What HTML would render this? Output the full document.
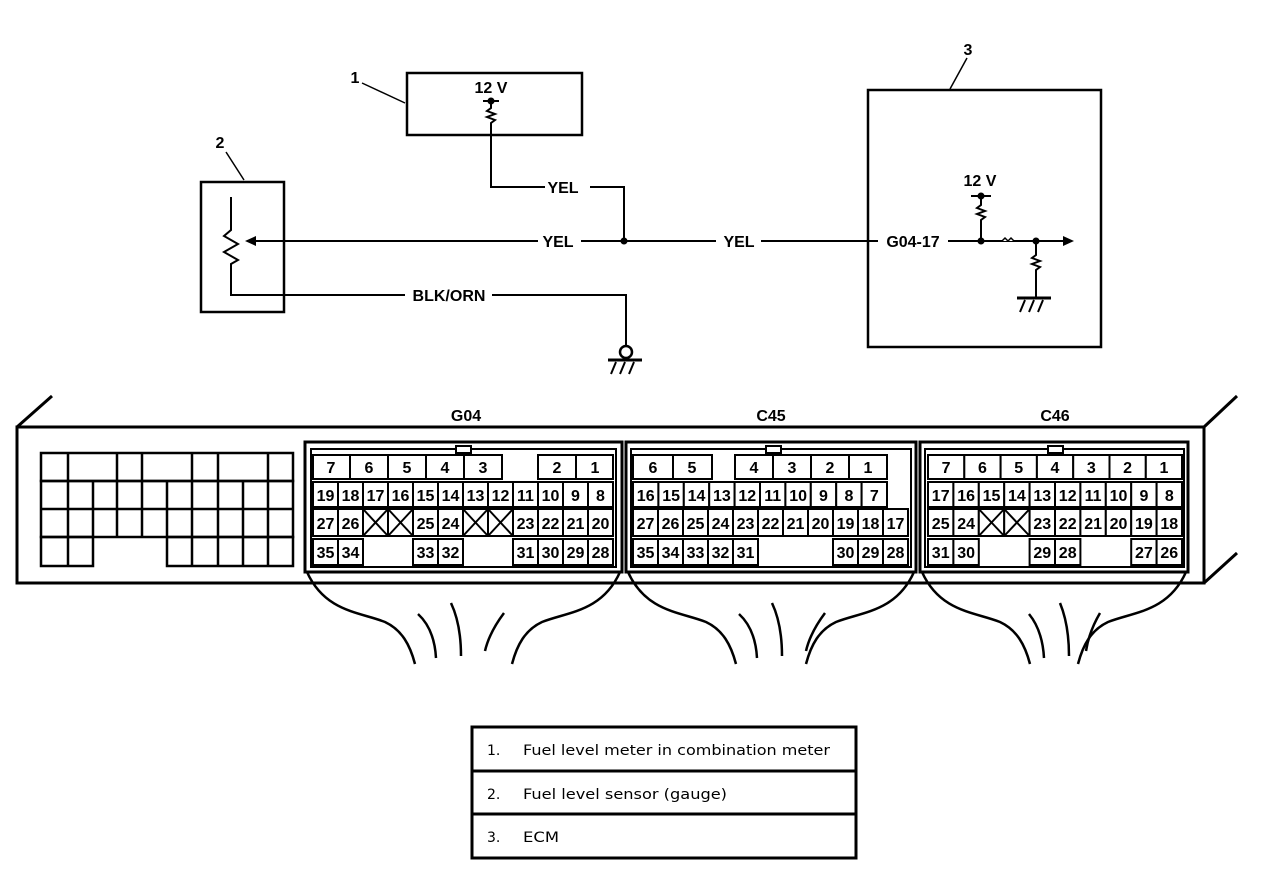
<!DOCTYPE html>
<html><head><meta charset="utf-8"><style>
html,body{margin:0;padding:0;background:#fff;}
svg{display:block;}
text{font-family:"Liberation Sans",Arial,sans-serif;font-weight:bold;fill:#000;}
text.lg{font-family:"DejaVu Sans","Liberation Sans",sans-serif;font-weight:normal;font-size:14px;}
.c rect{fill:#fff;stroke:#000;stroke-width:2;}
.c text{font-size:16px;text-anchor:middle;}
.c line{stroke:#000;stroke-width:2;}
</style></head><body>
<svg width="1264" height="892" viewBox="0 0 1264 892" xmlns="http://www.w3.org/2000/svg">
<g fill="none" stroke="#000" stroke-width="2.5">
<rect x="407" y="73" width="175" height="62"/>
<line x1="362" y1="83" x2="405" y2="103" stroke-width="1.5"/>
<line x1="483" y1="101" x2="499" y2="101" stroke-width="2"/>
<polyline points="491,101 491,108 487,111 495,114 487,117 495,120 491,123 491,187 545,187" stroke-width="2"/>
<polyline points="590,187 624,187 624,241" stroke-width="2"/>
<rect x="201" y="182" width="83" height="130"/>
<line x1="226" y1="152" x2="244" y2="180" stroke-width="1.5"/>
<polyline points="231,197 231,230 224,236 238,244 224,252 238,260 231,264 231,295 405,295" stroke-width="2"/>
<polyline points="492,295 626,295 626,345" stroke-width="2"/>
<circle cx="626" cy="352" r="6" stroke-width="2.5"/>
<line x1="608" y1="360" x2="642" y2="360" stroke-width="3"/>
<path d="M616,362 L611,374 M625,362 L620,374 M634,362 L629,374" stroke-width="2"/>
<line x1="250" y1="241" x2="538" y2="241" stroke-width="2"/>
<line x1="581" y1="241" x2="716" y2="241" stroke-width="2"/>
<line x1="761" y1="241" x2="878" y2="241" stroke-width="2"/>
<rect x="868" y="90" width="233" height="257"/>
<line x1="967" y1="58" x2="950" y2="89" stroke-width="1.5"/>
<line x1="948" y1="241" x2="1066" y2="241" stroke-width="2"/>
<line x1="971" y1="196" x2="991" y2="196" stroke-width="2"/>
<polyline points="981,196 981,205 977,208 985,211 977,214 985,217 981,220 981,241" stroke-width="2"/>
<polyline points="1036,241 1036,255 1032,258 1040,261 1032,264 1040,267 1036,270 1036,298" stroke-width="2"/>
<line x1="1017" y1="298" x2="1051" y2="298" stroke-width="3"/>
<path d="M1025,300 L1020,312 M1034,300 L1029,312 M1043,300 L1038,312" stroke-width="2"/>
<path d="M1002,241 l3,-3 l3,3 l3,-3 l3,3" stroke-width="1.5" fill="#fff"/>
</g>
<g fill="#000">
<circle cx="491" cy="101" r="3.5"/>
<circle cx="624" cy="241" r="3.5"/>
<circle cx="981" cy="196" r="3.5"/>
<circle cx="981" cy="241" r="3.5"/>
<circle cx="1036" cy="241" r="3.5"/>
<polygon points="245,241 256,236 256,246"/>
<polygon points="1074,241 1063,236 1063,246"/>
</g>
<g font-size="16">
<text x="491" y="93" text-anchor="middle">12 V</text>
<text x="355" y="83" text-anchor="middle">1</text>
<text x="220" y="148" text-anchor="middle">2</text>
<text x="968" y="55" text-anchor="middle">3</text>
<text x="563" y="193" text-anchor="middle">YEL</text>
<text x="558" y="247" text-anchor="middle">YEL</text>
<text x="739" y="247" text-anchor="middle">YEL</text>
<text x="449" y="301" text-anchor="middle">BLK/ORN</text>
<text x="913" y="247" text-anchor="middle">G04-17</text>
<text x="980" y="186" text-anchor="middle">12 V</text>
<text x="466" y="421" text-anchor="middle">G04</text>
<text x="771" y="421" text-anchor="middle">C45</text>
<text x="1055" y="421" text-anchor="middle">C46</text>
</g>
<g fill="none" stroke="#000" stroke-width="3">
<rect x="17" y="427" width="1187" height="156" fill="#fff"/>
<line x1="17" y1="427" x2="52" y2="396"/>
<line x1="1204" y1="427" x2="1237" y2="396"/>
<line x1="1204" y1="583" x2="1237" y2="553"/>
</g>
<g fill="none" stroke="#000" stroke-width="2.5">
<rect x="41" y="453" width="252" height="28"/>
<path d="M68,453V481M117,453V481M142,453V481M192,453V481M218,453V481M268,453V481"/>
<rect x="41" y="481" width="252" height="56"/>
<path d="M41,509H293M68,481V537M93,481V537M117,481V537M142,481V537M167,481V537M192,481V537M218,481V537M243,481V537M268,481V537"/>
<rect x="41" y="537" width="52" height="29"/><line x1="68" y1="537" x2="68" y2="566"/>
<rect x="167" y="537" width="126" height="29"/>
<path d="M192,537V566M218,537V566M243,537V566M268,537V566"/>
</g>
<g fill="#fff" stroke="#000">
<rect x="305" y="442" width="317" height="130" stroke-width="3"/>
<rect x="311" y="449" width="305" height="118" stroke-width="2"/>
<rect x="626" y="442" width="290" height="130" stroke-width="3"/>
<rect x="631" y="449" width="280" height="118" stroke-width="2"/>
<rect x="920" y="442" width="268" height="130" stroke-width="3"/>
<rect x="925" y="449" width="259" height="118" stroke-width="2"/>
<rect x="456" y="446" width="15" height="7" stroke-width="2"/>
<rect x="766" y="446" width="15" height="7" stroke-width="2"/>
<rect x="1048" y="446" width="15" height="7" stroke-width="2"/>
</g>
<g class="c">
<rect x="313" y="455" width="37" height="24"/><text x="331" y="473">7</text>
<rect x="350" y="455" width="38" height="24"/><text x="369" y="473">6</text>
<rect x="388" y="455" width="38" height="24"/><text x="407" y="473">5</text>
<rect x="426" y="455" width="38" height="24"/><text x="445" y="473">4</text>
<rect x="464" y="455" width="38" height="24"/><text x="483" y="473">3</text>
<rect x="538" y="455" width="38" height="24"/><text x="557" y="473">2</text>
<rect x="576" y="455" width="37" height="24"/><text x="595" y="473">1</text>
<rect x="313" y="482" width="25" height="25"/><text x="325.5" y="501">19</text>
<rect x="338" y="482" width="25" height="25"/><text x="350.5" y="501">18</text>
<rect x="363" y="482" width="25" height="25"/><text x="375.5" y="501">17</text>
<rect x="388" y="482" width="25" height="25"/><text x="400.5" y="501">16</text>
<rect x="413" y="482" width="25" height="25"/><text x="425.5" y="501">15</text>
<rect x="438" y="482" width="25" height="25"/><text x="450.5" y="501">14</text>
<rect x="463" y="482" width="25" height="25"/><text x="475.5" y="501">13</text>
<rect x="488" y="482" width="25" height="25"/><text x="500.5" y="501">12</text>
<rect x="513" y="482" width="25" height="25"/><text x="525.5" y="501">11</text>
<rect x="538" y="482" width="25" height="25"/><text x="550.5" y="501">10</text>
<rect x="563" y="482" width="25" height="25"/><text x="575.5" y="501">9</text>
<rect x="588" y="482" width="25" height="25"/><text x="600.5" y="501">8</text>
<rect x="313" y="509" width="25" height="27"/><text x="325.5" y="529">27</text>
<rect x="338" y="509" width="25" height="27"/><text x="350.5" y="529">26</text>
<rect x="363" y="509" width="25" height="27"/><line x1="363" y1="509" x2="388" y2="536"/><line x1="388" y1="509" x2="363" y2="536"/>
<rect x="388" y="509" width="25" height="27"/><line x1="388" y1="509" x2="413" y2="536"/><line x1="413" y1="509" x2="388" y2="536"/>
<rect x="413" y="509" width="25" height="27"/><text x="425.5" y="529">25</text>
<rect x="438" y="509" width="25" height="27"/><text x="450.5" y="529">24</text>
<rect x="463" y="509" width="25" height="27"/><line x1="463" y1="509" x2="488" y2="536"/><line x1="488" y1="509" x2="463" y2="536"/>
<rect x="488" y="509" width="25" height="27"/><line x1="488" y1="509" x2="513" y2="536"/><line x1="513" y1="509" x2="488" y2="536"/>
<rect x="513" y="509" width="25" height="27"/><text x="525.5" y="529">23</text>
<rect x="538" y="509" width="25" height="27"/><text x="550.5" y="529">22</text>
<rect x="563" y="509" width="25" height="27"/><text x="575.5" y="529">21</text>
<rect x="588" y="509" width="25" height="27"/><text x="600.5" y="529">20</text>
<rect x="313" y="539" width="25" height="26"/><text x="325.5" y="558">35</text>
<rect x="338" y="539" width="25" height="26"/><text x="350.5" y="558">34</text>
<rect x="413" y="539" width="25" height="26"/><text x="425.5" y="558">33</text>
<rect x="438" y="539" width="25" height="26"/><text x="450.5" y="558">32</text>
<rect x="513" y="539" width="25" height="26"/><text x="525.5" y="558">31</text>
<rect x="538" y="539" width="25" height="26"/><text x="550.5" y="558">30</text>
<rect x="563" y="539" width="25" height="26"/><text x="575.5" y="558">29</text>
<rect x="588" y="539" width="25" height="26"/><text x="600.5" y="558">28</text>
</g>
<g class="c">
<rect x="633" y="455" width="40" height="24"/><text x="653" y="473">6</text>
<rect x="673" y="455" width="39" height="24"/><text x="692" y="473">5</text>
<rect x="735" y="455" width="38" height="24"/><text x="754" y="473">4</text>
<rect x="773" y="455" width="38" height="24"/><text x="792" y="473">3</text>
<rect x="811" y="455" width="38" height="24"/><text x="830" y="473">2</text>
<rect x="849" y="455" width="38" height="24"/><text x="868" y="473">1</text>
<rect x="633" y="482" width="25.4" height="25"/><text x="645.7" y="501">16</text>
<rect x="658.4" y="482" width="25.4" height="25"/><text x="671.1" y="501">15</text>
<rect x="683.8" y="482" width="25.4" height="25"/><text x="696.5" y="501">14</text>
<rect x="709.2" y="482" width="25.4" height="25"/><text x="721.9" y="501">13</text>
<rect x="734.6" y="482" width="25.4" height="25"/><text x="747.3" y="501">12</text>
<rect x="760" y="482" width="25.4" height="25"/><text x="772.7" y="501">11</text>
<rect x="785.4" y="482" width="25.4" height="25"/><text x="798.1" y="501">10</text>
<rect x="810.8" y="482" width="25.4" height="25"/><text x="823.5" y="501">9</text>
<rect x="836.2" y="482" width="25.4" height="25"/><text x="848.9" y="501">8</text>
<rect x="861.6" y="482" width="25.4" height="25"/><text x="874.3" y="501">7</text>
<rect x="633" y="509" width="25" height="27"/><text x="645.5" y="529">27</text>
<rect x="658" y="509" width="25" height="27"/><text x="670.5" y="529">26</text>
<rect x="683" y="509" width="25" height="27"/><text x="695.5" y="529">25</text>
<rect x="708" y="509" width="25" height="27"/><text x="720.5" y="529">24</text>
<rect x="733" y="509" width="25" height="27"/><text x="745.5" y="529">23</text>
<rect x="758" y="509" width="25" height="27"/><text x="770.5" y="529">22</text>
<rect x="783" y="509" width="25" height="27"/><text x="795.5" y="529">21</text>
<rect x="808" y="509" width="25" height="27"/><text x="820.5" y="529">20</text>
<rect x="833" y="509" width="25" height="27"/><text x="845.5" y="529">19</text>
<rect x="858" y="509" width="25" height="27"/><text x="870.5" y="529">18</text>
<rect x="883" y="509" width="25" height="27"/><text x="895.5" y="529">17</text>
<rect x="633" y="539" width="25" height="26"/><text x="645.5" y="558">35</text>
<rect x="658" y="539" width="25" height="26"/><text x="670.5" y="558">34</text>
<rect x="683" y="539" width="25" height="26"/><text x="695.5" y="558">33</text>
<rect x="708" y="539" width="25" height="26"/><text x="720.5" y="558">32</text>
<rect x="733" y="539" width="25" height="26"/><text x="745.5" y="558">31</text>
<rect x="833" y="539" width="25" height="26"/><text x="845.5" y="558">30</text>
<rect x="858" y="539" width="25" height="26"/><text x="870.5" y="558">29</text>
<rect x="883" y="539" width="25" height="26"/><text x="895.5" y="558">28</text>
</g>
<g class="c">
<rect x="928" y="455" width="36.3" height="24"/><text x="946.1" y="473">7</text>
<rect x="964.3" y="455" width="36.3" height="24"/><text x="982.4" y="473">6</text>
<rect x="1000.6" y="455" width="36.3" height="24"/><text x="1018.7" y="473">5</text>
<rect x="1036.9" y="455" width="36.3" height="24"/><text x="1055" y="473">4</text>
<rect x="1073.2" y="455" width="36.3" height="24"/><text x="1091.3" y="473">3</text>
<rect x="1109.5" y="455" width="36.3" height="24"/><text x="1127.6" y="473">2</text>
<rect x="1145.8" y="455" width="36.2" height="24"/><text x="1163.9" y="473">1</text>
<rect x="928" y="482" width="25.4" height="25"/><text x="940.7" y="501">17</text>
<rect x="953.4" y="482" width="25.4" height="25"/><text x="966.1" y="501">16</text>
<rect x="978.8" y="482" width="25.4" height="25"/><text x="991.5" y="501">15</text>
<rect x="1004.2" y="482" width="25.4" height="25"/><text x="1016.9" y="501">14</text>
<rect x="1029.6" y="482" width="25.4" height="25"/><text x="1042.3" y="501">13</text>
<rect x="1055" y="482" width="25.4" height="25"/><text x="1067.7" y="501">12</text>
<rect x="1080.4" y="482" width="25.4" height="25"/><text x="1093.1" y="501">11</text>
<rect x="1105.8" y="482" width="25.4" height="25"/><text x="1118.5" y="501">10</text>
<rect x="1131.2" y="482" width="25.4" height="25"/><text x="1143.9" y="501">9</text>
<rect x="1156.6" y="482" width="25.4" height="25"/><text x="1169.3" y="501">8</text>
<rect x="928" y="509" width="25.4" height="27"/><text x="940.7" y="529">25</text>
<rect x="953.4" y="509" width="25.4" height="27"/><text x="966.1" y="529">24</text>
<rect x="978.8" y="509" width="25.4" height="27"/><line x1="978.8" y1="509" x2="1004.2" y2="536"/><line x1="1004.2" y1="509" x2="978.8" y2="536"/>
<rect x="1004.2" y="509" width="25.4" height="27"/><line x1="1004.2" y1="509" x2="1029.6" y2="536"/><line x1="1029.6" y1="509" x2="1004.2" y2="536"/>
<rect x="1029.6" y="509" width="25.4" height="27"/><text x="1042.3" y="529">23</text>
<rect x="1055" y="509" width="25.4" height="27"/><text x="1067.7" y="529">22</text>
<rect x="1080.4" y="509" width="25.4" height="27"/><text x="1093.1" y="529">21</text>
<rect x="1105.8" y="509" width="25.4" height="27"/><text x="1118.5" y="529">20</text>
<rect x="1131.2" y="509" width="25.4" height="27"/><text x="1143.9" y="529">19</text>
<rect x="1156.6" y="509" width="25.4" height="27"/><text x="1169.3" y="529">18</text>
<rect x="928" y="539" width="25.4" height="26"/><text x="940.7" y="558">31</text>
<rect x="953.4" y="539" width="25.4" height="26"/><text x="966.1" y="558">30</text>
<rect x="1029.6" y="539" width="25.4" height="26"/><text x="1042.3" y="558">29</text>
<rect x="1055" y="539" width="25.4" height="26"/><text x="1067.7" y="558">28</text>
<rect x="1131.2" y="539" width="25.4" height="26"/><text x="1143.9" y="558">27</text>
<rect x="1156.6" y="539" width="25.4" height="26"/><text x="1169.3" y="558">26</text>
</g>
<g fill="none" stroke="#000" stroke-width="2.5">
<path d="M307,572 C325,612 360,612 385,622 C402,630 410,645 415,664"/>
<path d="M620,572 C602,612 567,612 542,622 C525,630 517,645 512,664"/>
<path d="M418,614 C430,625 435,640 436,658"/>
<path d="M451,603 C459,620 461,638 461,656"/>
<path d="M504,613 C495,625 488,638 485,651"/>
<path d="M628,572 C646,612 681,612 706,622 C723,630 731,645 736,664"/>
<path d="M914,572 C896,612 861,612 836,622 C819,630 811,645 806,664"/>
<path d="M739,614 C751,625 756,640 757,658"/>
<path d="M772,603 C780,620 782,638 782,656"/>
<path d="M825,613 C816,625 809,638 806,651"/>
<path d="M922,572 C940,612 975,612 1000,622 C1017,630 1025,645 1030,664"/>
<path d="M1186,572 C1168,612 1133,612 1108,622 C1091,630 1083,645 1078,664"/>
<path d="M1029,614 C1038,625 1043,640 1044,658"/>
<path d="M1060,603 C1067,620 1069,638 1069,656"/>
<path d="M1100,613 C1093,625 1088,638 1086,651"/>
</g>
<g fill="none" stroke="#000" stroke-width="3">
<rect x="472" y="727" width="384" height="131"/>
<line x1="472" y1="771" x2="856" y2="771"/>
<line x1="472" y1="814" x2="856" y2="814"/>
</g>
<text class="lg" x="487" y="755">1.</text><text class="lg" x="523" y="755" textLength="307" lengthAdjust="spacingAndGlyphs">Fuel level meter in combination meter</text>
<text class="lg" x="487" y="799">2.</text><text class="lg" x="523" y="799" textLength="204" lengthAdjust="spacingAndGlyphs">Fuel level sensor (gauge)</text>
<text class="lg" x="487" y="842">3.</text><text class="lg" x="523" y="842" textLength="36" lengthAdjust="spacingAndGlyphs">ECM</text>
</svg>
</body></html>
